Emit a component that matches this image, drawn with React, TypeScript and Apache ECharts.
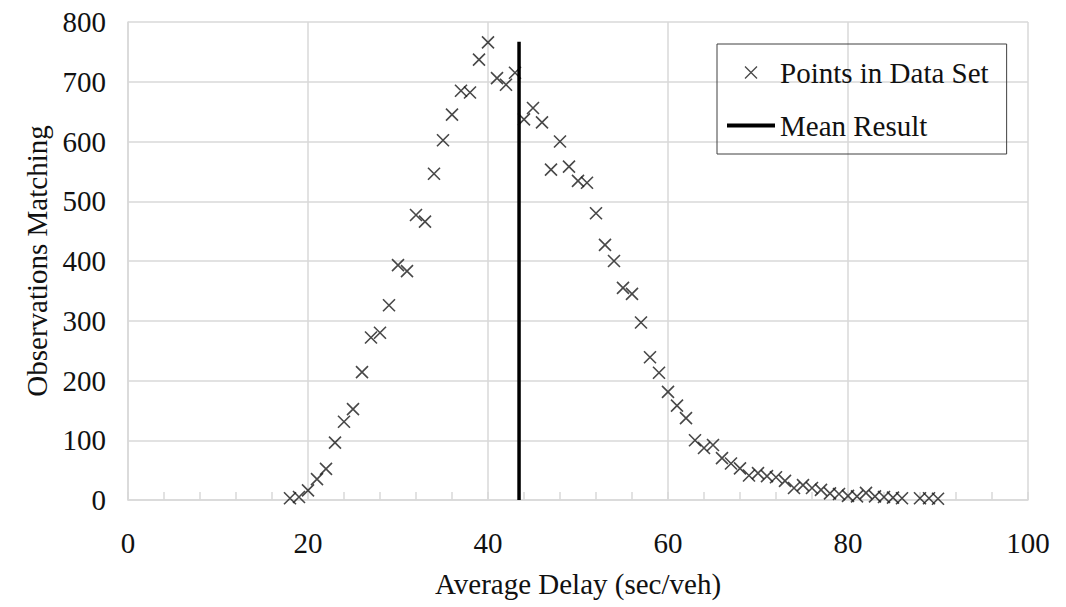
import React, { useEffect, useRef } from "react";
import * as echarts from "echarts";

// Average delay (sec/veh) for each observed point
const delays: number[] = [
  18, 19, 20, 21, 22, 23, 24, 25, 26, 27, 28, 29, 30, 31, 32, 33, 34, 35, 36, 37,
  38, 39, 40, 41, 42, 43, 44, 45, 46, 47, 48, 49, 50, 51, 52, 53, 54, 55, 56, 57,
  58, 59, 60, 61, 62, 63, 64, 65, 66, 67, 68, 69, 70, 71, 72, 73, 74, 75, 76, 77,
  78, 79, 80, 81, 82, 83, 84, 85, 86, 88, 89, 90,
];
// Observations matching at each delay
const matches: number[] = [
  3, 5, 16, 35, 52, 96, 131, 152, 214, 272, 280, 326, 393, 383, 477, 466, 546, 602, 645, 685,
  682, 737, 766, 706, 695, 715, 637, 656, 632, 553, 600, 558, 534, 531, 480, 427, 400, 355, 345, 297,
  239, 213, 181, 158, 137, 100, 87, 92, 70, 61, 53, 41, 45, 40, 38, 32, 20, 25, 20, 17,
  11, 10, 7, 6, 12, 6, 5, 4, 3, 3, 3, 2,
];
// Mean result (vertical line)
const meanDelay = 43.45;
const meanTop = 767;

const xTicks = { min: 0, max: 100, interval: 20 };
const yTicks = { min: 0, max: 800, interval: 100 };

const seriesNames = ["Points in Data Set", "Mean Result"];
const xTitle = "Average Delay (sec/veh)";
const yTitle = "Observations Matching";

const FONT = "Liberation Serif";
const INK = "#111111";
const GRID = "#d9d9d9";
const CROSS = "path://M0,0L10,10M10,0L0,10";
const BAR = "path://M0,0L48,0L48,4L0,4Z";

const T = { fontFamily: FONT, fontSize: 29, color: INK };
const richT = { t: { fontFamily: FONT, fontSize: 29, color: INK } };

export default function App() {
  const ref = useRef<HTMLDivElement>(null);
  useEffect(() => {
    if (!ref.current) return;
    const chart = echarts.init(ref.current, undefined, { renderer: "svg" });
    const points = delays.map((d, i) => [d, matches[i]]);
    chart.setOption({
      animation: false,
      grid: { left: 128, right: 38, top: 22, bottom: 107 },
      legend: {
        orient: "vertical",
        left: 717,
        top: 44,
        padding: [14, 18, 14, 10],
        itemGap: 24,
        itemWidth: 48,
        itemHeight: 12,
        borderColor: "#404040",
        borderWidth: 1,
        formatter: (name: string) => "{t|" + name + "}",
        textStyle: { ...T, rich: richT },
        data: [
          {
            name: seriesNames[0],
            icon: CROSS,
            itemStyle: { color: "transparent", borderColor: "#1a1a1a", borderWidth: 1.3 },
          },
          { name: seriesNames[1], icon: BAR, itemStyle: { color: "#000000" } },
        ],
      },
      xAxis: {
        type: "value",
        min: xTicks.min,
        max: xTicks.max,
        interval: xTicks.interval,
        name: "{t|" + xTitle + "}",
        nameLocation: "middle",
        nameGap: 69,
        nameTextStyle: { ...T, rich: richT },
        axisLine: { show: true, lineStyle: { color: GRID, width: 1.5 } },
        axisTick: { show: true, inside: true, length: 8, lineStyle: { color: GRID, width: 1.5 } },
        minorTick: { show: true, splitNumber: 5, length: 8, lineStyle: { color: GRID, width: 1.5 } },
        splitLine: { show: true, lineStyle: { color: GRID, width: 1.5 } },
        axisLabel: {
          ...T,
          margin: 28,
          formatter: (v: number) => "{t|" + v + "}",
          rich: richT,
        },
      },
      yAxis: {
        type: "value",
        min: yTicks.min,
        max: yTicks.max,
        interval: yTicks.interval,
        name: "{t|" + yTitle + "}",
        nameLocation: "middle",
        nameGap: 74,
        nameTextStyle: { ...T, rich: richT },
        axisLine: { show: true, lineStyle: { color: GRID, width: 1.5 } },
        axisTick: { show: false },
        splitLine: { show: true, lineStyle: { color: GRID, width: 1.5 } },
        axisLabel: {
          ...T,
          margin: 22,
          formatter: (v: number) => "{t|" + v + "}",
          rich: richT,
        },
      },
      series: [
        {
          name: seriesNames[0],
          type: "scatter",
          symbol: CROSS,
          symbolSize: 12,
          symbolKeepAspect: true,
          itemStyle: { color: "transparent", borderColor: "#1a1a1a", borderWidth: 1.6 },
          data: points,
          z: 3,
        },
        {
          name: seriesNames[1],
          type: "line",
          symbol: "none",
          symbolKeepAspect: true,
          lineStyle: { color: "#000000", width: 3.5 },
          itemStyle: { color: "#000000" },
          data: [
            [meanDelay, 0],
            [meanDelay, meanTop],
          ],
          z: 4,
        },
      ],
    });
    return () => chart.dispose();
  }, []);
  return (
    <div
      ref={ref}
      style={{ position: "absolute", left: 0, top: 0, width: 1066, height: 607 }}
    />
  );
}
